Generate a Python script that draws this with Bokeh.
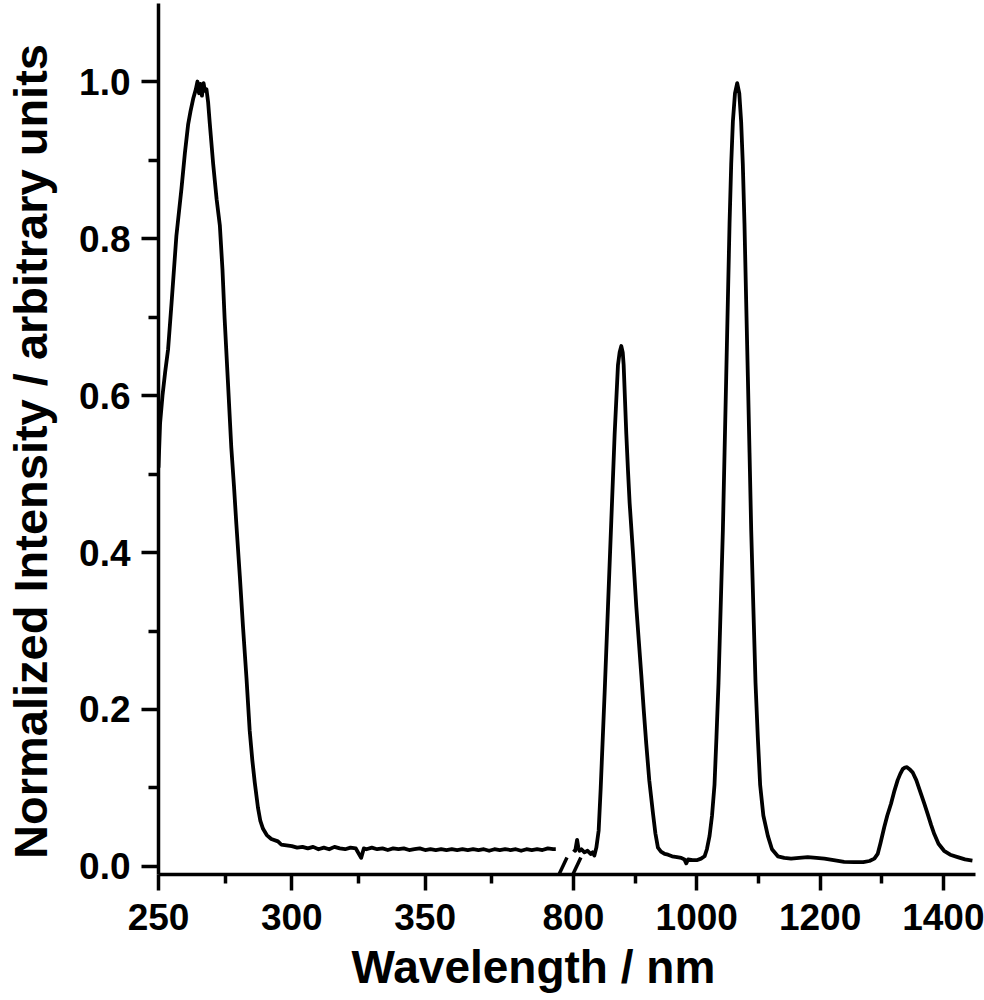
import numpy as np
from bokeh.plotting import figure
from bokeh.models import (Range1d, FixedTicker, CustomJSTickFormatter,
                          NumeralTickFormatter, Arrow, Title, LinearAxis)
from bokeh.embed import file_html
from bokeh.resources import INLINE

# ---------------- data ----------------
# UV excitation band (left part of the broken axis)
uv_wl = [250.0, 250.6, 251.5, 252.5, 253.6, 254.9, 256.7, 258.6, 259.9, 261.1,
         262.0, 263.0, 264.0, 264.6, 265.2, 265.7, 266.3, 266.9, 267.4, 268.0,
         268.6, 269.2, 270.5, 271.8, 273.0, 274.0, 274.8, 276.0, 277.3, 278.3,
         279.2, 280.5, 281.7, 283.0, 284.2, 285.2, 286.1, 287.3, 288.2, 289.2,
         290.6, 292.3, 294.8, 296.0, 298.0,
         300, 302, 304, 306, 308, 310, 312, 314, 316, 318, 320, 322, 324, 326,
         327, 328, 330, 332, 334, 336, 338, 340, 342, 344, 346, 348, 350, 352,
         354, 356, 358, 360, 362, 364, 366, 368, 370, 372, 374, 376, 378, 380,
         382, 384, 386, 388, 390, 392, 394, 396, 398, 399]
uv_val = [0.508, 0.565, 0.600, 0.630, 0.659, 0.718, 0.803, 0.863, 0.909, 0.945,
          0.962, 0.978, 0.990, 1.000, 0.985, 0.997, 0.982, 0.998, 0.988, 0.990,
          0.974, 0.948, 0.895, 0.850, 0.817, 0.760, 0.698, 0.620, 0.534, 0.485,
          0.436, 0.370, 0.305, 0.240, 0.173, 0.135, 0.107, 0.075, 0.058, 0.048,
          0.040, 0.035, 0.032, 0.028, 0.027,
          0.026, 0.024, 0.025, 0.023, 0.025, 0.022, 0.024, 0.022, 0.025, 0.023,
          0.022, 0.024, 0.023, 0.011, 0.023, 0.022, 0.024, 0.022, 0.023, 0.021,
          0.023, 0.022, 0.023, 0.021, 0.022, 0.023, 0.021, 0.022, 0.021, 0.022,
          0.021, 0.022, 0.021, 0.022, 0.021, 0.022, 0.021, 0.022, 0.020, 0.022,
          0.021, 0.022, 0.021, 0.022, 0.020, 0.022, 0.021, 0.022, 0.021, 0.023,
          0.022, 0.022]

# NIR emission (right part of the broken axis)
nir_wl = [800, 803, 806, 808, 810, 813, 818, 823, 828, 831, 834, 837.2, 841,
          844.3, 850.7, 856.1, 861.5, 866.9, 872.3, 875, 877.7, 880, 881.5,
          885.8, 888.5, 891.2, 896.6, 902.0, 906, 910.1, 914, 918.2, 923, 929.0,
          933, 937.1, 942, 948, 953.4, 960, 968, 974.9, 980, 983, 986, 993,
          1000, 1007, 1012.7, 1016.5, 1020.8, 1024.8, 1028.8, 1032, 1035.3,
          1038.8, 1042.4, 1045.1, 1047.8, 1050.5, 1053.2, 1055.9, 1058.6, 1062,
          1065.6, 1069, 1072, 1074.7, 1077.4, 1080.1, 1082.9, 1085.6, 1088.3,
          1091.8, 1095.3, 1099, 1102.8, 1108, 1115.3, 1122, 1131.5, 1142, 1153,
          1166, 1180, 1194, 1207, 1222, 1239, 1255, 1270, 1280, 1288, 1293.4,
          1298, 1304, 1309, 1315, 1320, 1325.8, 1330, 1334, 1337.5, 1340.9,
          1345, 1350, 1356, 1363.6, 1369, 1374.4, 1380, 1385, 1392, 1401, 1411,
          1423, 1435, 1447]
nir_val = [0.022, 0.020, 0.034, 0.024, 0.020, 0.022, 0.018, 0.020, 0.016, 0.018,
           0.014, 0.024, 0.046,
           0.100, 0.222, 0.331, 0.441, 0.551, 0.639, 0.655, 0.663, 0.655, 0.639,
           0.551, 0.505, 0.463, 0.400, 0.331, 0.288, 0.244, 0.200, 0.156, 0.110,
           0.068, 0.042, 0.024, 0.019, 0.016, 0.015, 0.013, 0.012, 0.011, 0.009,
           0.004, 0.009, 0.008,
           0.008, 0.010, 0.013, 0.022, 0.039, 0.065, 0.104, 0.165, 0.234,
           0.330, 0.429, 0.527, 0.624, 0.722, 0.819, 0.895, 0.949, 0.985,
           0.998, 0.985, 0.949, 0.895, 0.819, 0.722, 0.624, 0.527, 0.429,
           0.330, 0.234, 0.165, 0.104, 0.065, 0.039, 0.022, 0.013, 0.011, 0.010,
           0.011, 0.012, 0.011, 0.010, 0.008, 0.006, 0.0055, 0.0055, 0.007, 0.010,
           0.016, 0.030, 0.050, 0.065, 0.080, 0.095, 0.110, 0.118, 0.124, 0.126,
           0.1265, 0.124, 0.120, 0.110, 0.0926, 0.080, 0.067, 0.053, 0.0416,
           0.029, 0.020, 0.015, 0.0119, 0.009, 0.0076]

x_major = [250, 300, 350, 800, 1000, 1200, 1400]
x_minor = [275, 325, 375, 900, 1100, 1300]
y_major = [0.0, 0.2, 0.4, 0.6, 0.8, 1.0]
y_minor = [0.1, 0.3, 0.5, 0.7, 0.9]

x_title = "Wavelength / nm"
y_title = "Normalized Intensity / arbitrary units"

# ---------------- broken-axis scale ----------------
BREAK_LO, BREAK_HI = 400.0, 800.0   # nm on either side of the break
GAP = 5.6                           # axis units left for the break
K = 0.2313                          # compression of the right part
X_MIN, X_MAX = 250.0, 1452.0
Y_MIN, Y_MAX = -0.0102, 1.0994


def to_axis(w):
    w = np.asarray(w, dtype=float)
    return np.where(w <= BREAK_LO, w, BREAK_LO + GAP + (w - BREAK_HI) * K)


# ---------------- layout (pixels) ----------------
W, H = 984, 1000
BL, BR, BT, BB = 157, 9, 3, 126          # borders around the plot frame
U_MAX = float(to_axis(X_MAX))


def px_to_y(py):                      # canvas pixel -> y axis unit
    return Y_MAX - (py - BT) * (Y_MAX - Y_MIN) / (H - BT - BB)


FONT = "Liberation Sans"

p = figure(width=W, height=H,
           x_range=Range1d(X_MIN, U_MAX),
           y_range=Range1d(Y_MIN, Y_MAX),
           output_backend="svg", toolbar_location=None,
           min_border_left=BL, min_border_right=BR,
           min_border_top=BT, min_border_bottom=BB)
p.outline_line_color = None
p.xgrid.visible = False
p.ygrid.visible = False
p.background_fill_color = "white"
p.border_fill_color = "white"

p.line(to_axis(uv_wl), uv_val, line_width=3.8, color="black", line_join="round")
p.line(to_axis(nir_wl), nir_val, line_width=3.8, color="black", line_join="round")

# axes
p.xaxis.ticker = FixedTicker(ticks=list(to_axis(x_major)),
                             minor_ticks=list(to_axis(x_minor)))
p.xaxis.formatter = CustomJSTickFormatter(
    args=dict(lo=BREAK_LO, hi=BREAK_HI, gap=GAP, k=K),
    code="""
    if (tick <= lo + 1e-6) { return tick.toFixed(0); }
    return (hi + (tick - lo - gap) / k).toFixed(0);
    """)
p.yaxis.ticker = FixedTicker(ticks=y_major, minor_ticks=y_minor)
p.yaxis.formatter = NumeralTickFormatter(format="0.0")

for ax in (p.xaxis[0], p.yaxis[0]):
    ax.axis_line_width = 3.5
    ax.axis_line_color = "black"
    ax.major_tick_line_width = 3.5
    ax.minor_tick_line_width = 3.5
    ax.major_tick_line_color = "black"
    ax.minor_tick_line_color = "black"
    ax.major_tick_in = 0
    ax.minor_tick_in = 0
    ax.major_label_text_font = FONT
    ax.major_label_text_font_style = "bold"
    ax.major_label_text_font_size = "37px"
    ax.major_label_text_color = "black"

p.xaxis.major_tick_out = 16
p.xaxis.minor_tick_out = 9
p.xaxis.major_label_standoff = 13
p.yaxis.major_tick_out = 17
p.yaxis.minor_tick_out = 10
p.yaxis.major_label_standoff = 11

# y title: an outer, line-less axis whose only label is the title, so that it
# can sit at the same height as in the reference
title_axis = LinearAxis(
    ticker=FixedTicker(ticks=[px_to_y(451)], minor_ticks=[]),
    formatter=CustomJSTickFormatter(args=dict(t=y_title), code="return t;"),
    axis_line_color=None, major_tick_line_color=None,
    minor_tick_line_color=None, major_tick_in=0, major_tick_out=0,
    minor_tick_in=0, minor_tick_out=0,
    major_label_standoff=20, major_label_orientation="vertical",
    major_label_text_font=FONT, major_label_text_font_style="bold",
    major_label_text_font_size="47px", major_label_text_color="black")
p.add_layout(title_axis, "left")

p.add_layout(Title(text=x_title, align="left", offset=193, standoff=13,
                   text_font=FONT, text_font_style="bold",
                   text_font_size="46px", text_color="black"), "below")

# break marks "//" on the x axis
bx = 0.5 * (float(to_axis(BREAK_LO)) + float(to_axis(BREAK_HI)))
for off in (-2.6, 2.6):
    p.add_layout(Arrow(x_start=bx + off - 3.0, y_start=-0.0318,
                       x_end=bx + off + 3.0, y_end=0.0115,
                       start=None, end=None,
                       line_width=3.5, line_color="black"))

open("out.html", "w").write(file_html(p, INLINE))
